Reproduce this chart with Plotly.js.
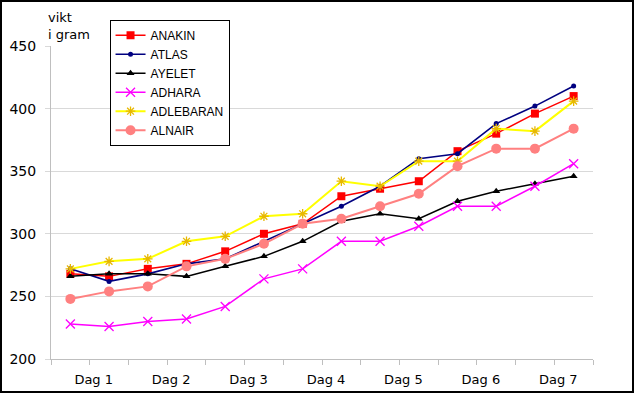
<!DOCTYPE html>
<html>
<head>
<meta charset="utf-8">
<script src="https://cdn.plot.ly/plotly-3.0.1.min.js"></script>
<style>
  html, body { margin: 0; padding: 0; background: #fff; }
  #wrap { position: relative; width: 634px; height: 393px; }
  #chart { position: absolute; left: 0; top: 0; width: 634px; height: 393px; }
  #frame { position: absolute; left: 0; top: 0; width: 634px; height: 393px; box-sizing: border-box; border: 2px solid #000; pointer-events: none; }
</style>
</head>
<body>
<div id="wrap"><div id="chart"></div><div id="frame"></div></div>
<script>
// Day labels (two measurements per day)
const days = ["Dag 1", "Dag 2", "Dag 3", "Dag 4", "Dag 5", "Dag 6", "Dag 7"];

// Weight in grams, 14 measurements per animal
const anakin    = [268, 266, 272, 276, 286, 300, 308, 330, 336, 342, 366, 380, 396, 410];
const atlas     = [272, 262, 268, 276, 280, 294, 308, 322, 338, 360, 364, 388, 402, 418];
const ayelet    = [266, 268, 268, 266, 274, 282, 294, 310, 316, 312, 326, 334, 340, 346];
const adhara    = [228, 226, 230, 232, 242, 264, 272, 294, 294, 306, 322, 322, 338, 356];
const adlebaran = [272, 278, 280, 294, 298, 314, 316, 342, 338, 358, 358, 384, 382, 406];
const alnair    = [248, 254, 258, 274, 280, 292, 308, 312, 322, 332, 354, 368, 368, 384];

const yTicks = [200, 250, 300, 350, 400, 450];

const xs = anakin.map((_, i) => i + 0.5);

function series(name, vals, lineColor, lineWidth, marker) {
  return { type: 'scatter', mode: 'lines+markers', name: name, x: xs, y: vals,
           line: { color: lineColor, width: lineWidth }, marker: marker, cliponaxis: false };
}

const data = [
  series('ANAKIN', anakin, '#FF0000', 1.5, { symbol: 'square', size: 8, color: '#FF0000' }),
  series('ATLAS', atlas, '#000080', 1.6, { symbol: 'circle', size: 5, color: '#000080' }),
  series('AYELET', ayelet, '#000000', 1.5, { symbol: 'triangle-up', size: 7, color: '#000000' }),
  series('ADHARA', adhara, '#FF00FF', 1.5, { symbol: 'x-thin-open', size: 9, color: '#FF00FF', line: { color: '#FF00FF', width: 1.3 } }),
  series('ADLEBARAN', adlebaran, '#FFFF00', 2, { symbol: 'asterisk-open', size: 8, color: '#E8B800', line: { color: '#E8B800', width: 1.3 } }),
  series('ALNAIR', alnair, '#FF8080', 2, { symbol: 'circle', size: 10, color: '#FF8080' })
];

const tickFont = { family: 'DejaVu Sans, Verdana, sans-serif', size: 14, color: '#000' };

const layout = {
  width: 634, height: 393,
  margin: { l: 51, r: 41, t: 46, b: 34, pad: 0 },
  paper_bgcolor: '#fff', plot_bgcolor: '#fff',
  showlegend: true,
  legend: {
    x: 0.108, y: 1.084, xanchor: 'left', yanchor: 'top',
    bgcolor: '#fff', bordercolor: '#000', borderwidth: 1,
    font: { family: 'Liberation Sans, Arial, sans-serif', size: 12, color: '#000' },
    tracegroupgap: 0, itemwidth: 30
  },
  xaxis: {
    range: [0, xs.length], fixedrange: true,
    tickvals: days.map((_, i) => 2 * i + 1), ticktext: days,
    ticks: 'outside', ticklen: 5, tickcolor: '#BFBFBF', tickwidth: 1,
    minor: { dtick: 1, tick0: 0, ticks: 'outside', ticklen: 5, tickcolor: '#BFBFBF', tickwidth: 1, showgrid: false },
    showline: true, linecolor: '#BFBFBF', linewidth: 1,
    showgrid: false, zeroline: false,
    tickfont: { family: 'DejaVu Sans, Verdana, sans-serif', size: 13, color: '#000' },
    ticklabelshift: 4, ticklabelstandoff: 3
  },
  yaxis: {
    range: [200, 450], tickvals: yTicks, fixedrange: true,
    ticks: 'outside', ticklen: 5, tickcolor: '#D9D9D9',
    showline: true, linecolor: '#BFBFBF', linewidth: 1,
    showgrid: true, gridcolor: '#D9D9D9', gridwidth: 1, zeroline: false,
    tickfont: tickFont, ticklabelstandoff: 6
  },
  yaxis2: {
    range: [200, 450], tickvals: yTicks, fixedrange: true,
    overlaying: 'y', side: 'right', anchor: 'x',
    ticks: '', showline: false, showgrid: false, zeroline: false,
    tickfont: tickFont, ticklabelstandoff: 14
  },
  annotations: [{
    text: 'vikt<br>i gram', xref: 'paper', yref: 'paper',
    x: -0.01, y: 1.12, xanchor: 'left', yanchor: 'top', align: 'left',
    showarrow: false,
    font: { family: 'DejaVu Sans, Verdana, sans-serif', size: 13, color: '#000' }
  }]
};

Plotly.newPlot('chart', data, layout, { staticPlot: true, displayModeBar: false });
</script>
</body>
</html>
